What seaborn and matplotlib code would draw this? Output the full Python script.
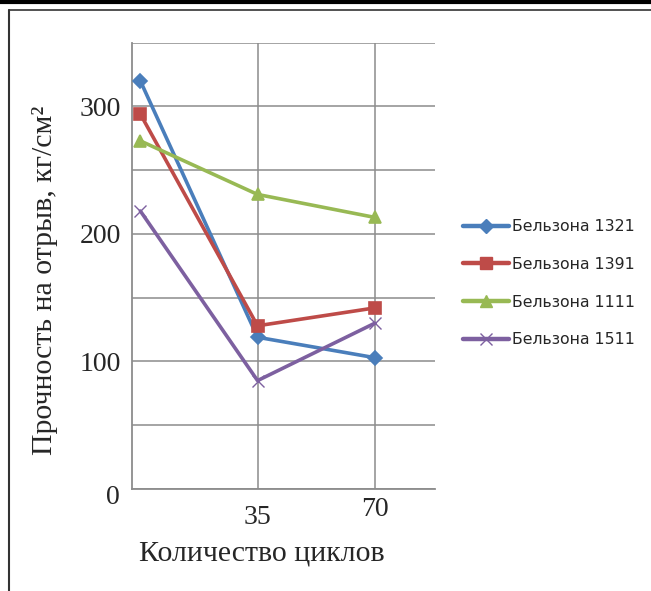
import matplotlib
matplotlib.use("Agg")
import matplotlib.pyplot as plt
import seaborn as sns
import pandas as pd
from matplotlib.lines import Line2D
import matplotlib.transforms as mtransforms

# ---- data ----
cycles = [0, 35, 70]
series_names = ["Бельзона 1321", "Бельзона 1391", "Бельзона 1111", "Бельзона 1511"]
b1321 = [320, 119, 103]
b1391 = [294, 128, 142]
b1111 = [273, 231, 213]
b1511 = [218, 85, 130]
x_tick_values = [35, 70]
x_tick_labels = ["35", "70"]
y_tick_values = [100, 200, 300]
y_tick_labels = ["100", "200", "300"]

colors = ["#4A7EBB", "#BE4B48", "#98B954", "#7D60A0"]
markers = ["D", "s", "^", "x"]
msizes = [7, 9, 9, 9]

rows = []
for name, vals in zip(series_names, [b1321, b1391, b1111, b1511]):
    for c, v in zip(cycles, vals):
        rows.append({"cycles": c, "value": v, "series": name})
df = pd.DataFrame(rows)

sns.set_style("white")
plt.rcParams["font.family"] = ["Liberation Serif", "DejaVu Serif"]

fig = plt.figure(figsize=(6.51, 5.91), dpi=100)
ax = fig.add_axes([132/651, 1-489/591, (435-132)/651, (489-42.7)/591])

grid_c = "#8C8C8C"
for name, col, mk, ms in zip(series_names, colors, markers, msizes):
    sub = df[df["series"] == name]
    sns.lineplot(data=sub, x="cycles", y="value", ax=ax, color=col, marker=mk,
                 markersize=ms, linewidth=2.6, markeredgecolor=col,
                 markeredgewidth=1.2 if mk != "x" else 1.0, label=name,
                 legend=False, zorder=3)

ax.set_xlim(-2.5, 88)
ax.set_ylim(0, 350)
ax.set_yticks(range(0, 351, 50))
ax.set_yticklabels(["" if v not in y_tick_values else str(v) for v in range(0, 351, 50)],
                   fontsize=20)
ax.set_xticks(x_tick_values)
ax.set_xticklabels([])
ax.grid(True, color=grid_c, linewidth=1.1)
ax.set_axisbelow(True)
for s in ["top", "right"]:
    ax.spines[s].set_visible(False)
for s in ["left", "bottom"]:
    ax.spines[s].set_color(grid_c)
    ax.spines[s].set_linewidth(1.3)
ax.tick_params(axis="both", direction="out", length=6, width=1.1, color=grid_c, pad=2)
ax.set_xlabel("")
ax.set_ylabel("")

# x tick labels (staggered as in source)
trans = mtransforms.blended_transform_factory(ax.transData, fig.transFigure)
ax.text(35, 1-518/591, x_tick_labels[0], transform=trans, ha="center", va="center", fontsize=20)
ax.text(70, 1-509/591, x_tick_labels[1], transform=trans, ha="center", va="center", fontsize=20)
fig.text(113/651, 1-497/591, "0", ha="center", va="center", fontsize=20)

fig.text(262/651, 1-554/591, "Количество циклов", ha="center", va="center", fontsize=21.5)
fig.text(45/651, 1-280/591, "Прочность на отрыв, кг/см²", ha="center", va="center",
         rotation=90, fontsize=21.5)

handles = [Line2D([], [], color=c, marker=m, markersize=ms, linewidth=3.2,
                  markeredgecolor=c) for c, m, ms in zip(colors, markers, msizes)]
leg = fig.legend(handles, series_names, loc="upper left",
                 bbox_to_anchor=(463/651, 1-219/591), frameon=False,
                 prop={"family": "DejaVu Sans", "size": 11.3}, handlelength=2.9,
                 handletextpad=0.2, labelspacing=1.45, borderpad=0, borderaxespad=0)

# page frame decorations
fig.add_artist(Line2D([0, 1], [1-1.5/591, 1-1.5/591], color="black", linewidth=3, transform=fig.transFigure))
fig.add_artist(Line2D([9/651, 1], [1-10/591, 1-10/591], color="#333333", linewidth=1.2, transform=fig.transFigure))
fig.add_artist(Line2D([9/651, 9/651], [1-10/591, 0], color="#333333", linewidth=1.5, transform=fig.transFigure))

fig.savefig("out.png", dpi=100)
